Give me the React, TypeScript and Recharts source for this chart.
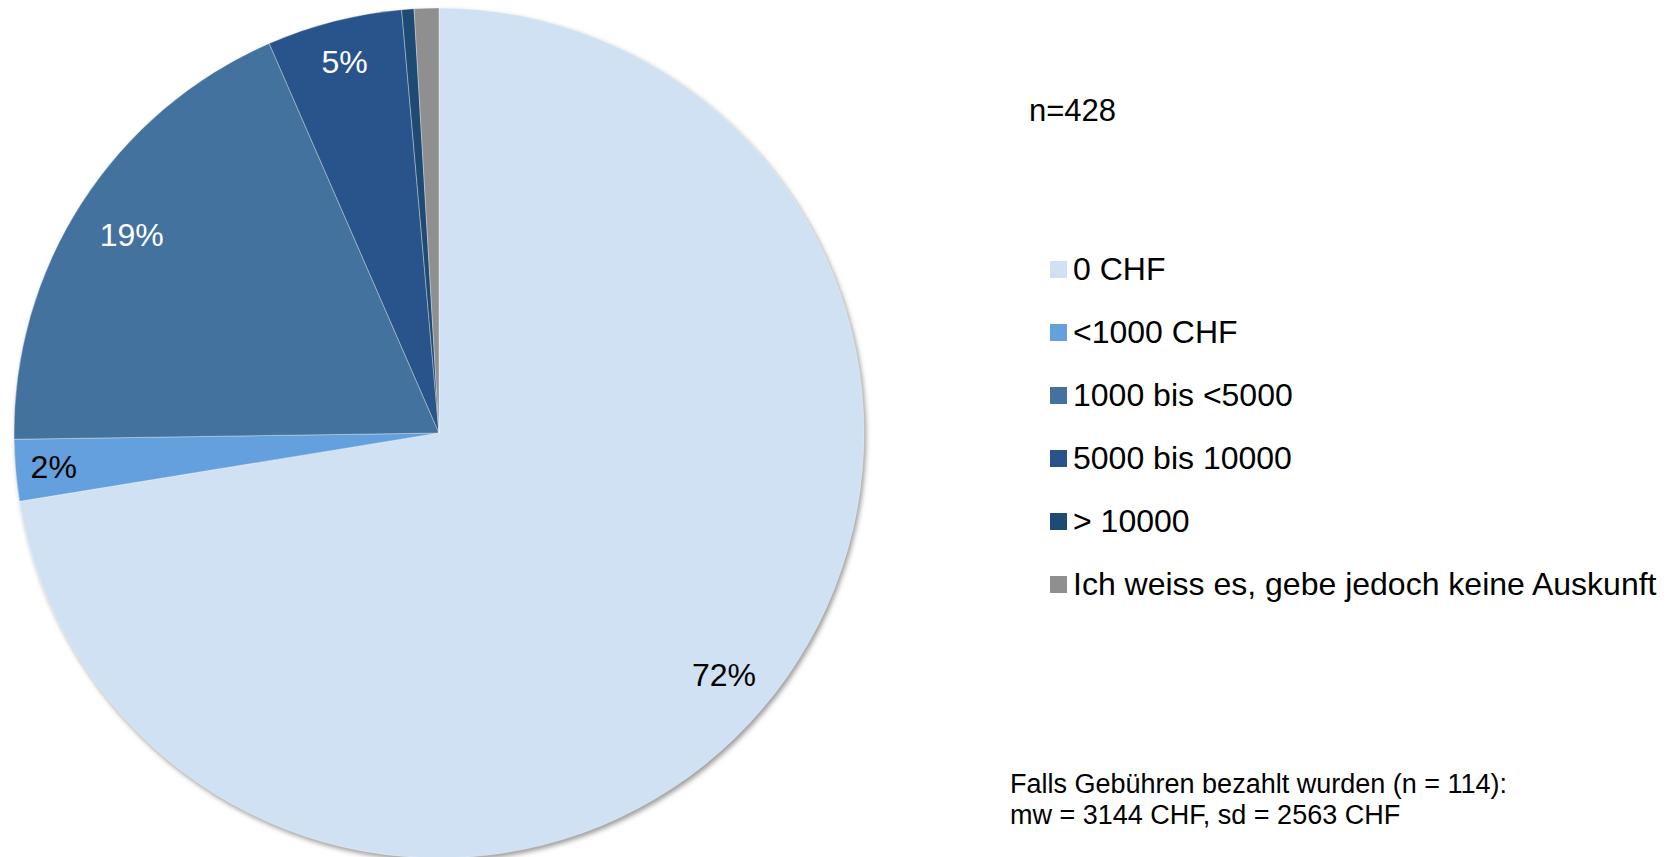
import { PieChart, Pie, Cell, Legend } from "recharts";

// Gebühren (CHF) — Anzahl Antworten, n = 428
const categories = [
  "0 CHF",
  "<1000 CHF",
  "1000 bis <5000",
  "5000 bis 10000",
  "> 10000",
  "Ich weiss es, gebe jedoch keine Auskunft",
];
const counts = [310, 10, 80, 22, 2, 4];

const sliceColors = ["#D0E1F3", "#63A0DD", "#44729F", "#28548B", "#1F4A74", "#8F8F8F"];
const labelColors = ["#000000", "#000000", "#ffffff", "#ffffff", "#ffffff", "#000000"];
// how far out (fraction of radius) each slice label sits — Excel "best fit" look
const labelRadius = [0.88, 0.91, 0.86, 0.9, 0.9, 0.9];

const totalText = "n=428";
const noteLines = ["Falls Gebühren bezahlt wurden (n = 114):", "mw = 3144 CHF, sd = 2563 CHF"];

const data = categories.map((name, i) => ({ name, value: counts[i] }));

const FONT = "'Liberation Sans', Arial, Helvetica, sans-serif";
const RAD = Math.PI / 180;

// ─── Percent label inside slice ──────────────────────────────────────────────

function PctLabel(props: any) {
  const { cx, cy, midAngle, outerRadius, percent, index } = props;
  if (percent < 0.015) return null;
  const r = outerRadius * labelRadius[index];
  const x = cx + r * Math.cos(-midAngle * RAD);
  const y = cy + r * Math.sin(-midAngle * RAD);
  return (
    <text
      x={x}
      y={y}
      fill={labelColors[index]}
      textAnchor="middle"
      dominantBaseline="central"
      fontSize={32}
      fontFamily={FONT}
    >
      {`${Math.round(percent * 100)}%`}
    </text>
  );
}

// ─── Legend (built from the category list, in data order) ───────────────────

function LegendList() {
  return (
    <div style={{ fontFamily: FONT }}>
      {categories.map((name, i) => (
        <div key={name} style={{ display: "flex", alignItems: "center", height: 63 }}>
          <span
            style={{
              display: "inline-block",
              width: 17,
              height: 17,
              background: sliceColors[i],
              marginRight: 6,
            }}
          />
          <span style={{ fontSize: 32, color: "#000", whiteSpace: "nowrap" }}>{name}</span>
        </div>
      ))}
    </div>
  );
}

export default function App() {
  return (
    <div
      style={{
        position: "absolute",
        left: 0,
        top: 0,
        width: 1673,
        height: 857,
        background: "#fff",
        overflow: "hidden",
      }}
    >
      <PieChart width={1673} height={857} margin={{ top: 0, right: 0, bottom: 0, left: 0 }}>
        <defs>
          <filter id="pieShadow" x="-10%" y="-10%" width="120%" height="120%">
            <feGaussianBlur stdDeviation="2.5" />
          </filter>
        </defs>

        {/* shadow underneath */}
        <Pie
          data={data}
          dataKey="value"
          nameKey="name"
          cx={441}
          cy={436}
          outerRadius={425}
          startAngle={90}
          endAngle={-270}
          stroke="none"
          legendType="none"
          isAnimationActive={false}
        >
          {data.map((_, i) => (
            <Cell key={i} fill="#9a9a9a" filter="url(#pieShadow)" />
          ))}
        </Pie>

        <Pie
          data={data}
          dataKey="value"
          nameKey="name"
          cx={439}
          cy={433}
          outerRadius={425}
          startAngle={90}
          endAngle={-270}
          stroke="rgba(255,255,255,0.35)"
          strokeWidth={1}
          label={PctLabel}
          labelLine={false}
          isAnimationActive={false}
        >
          {data.map((_, i) => (
            <Cell key={i} fill={sliceColors[i]} />
          ))}
        </Pie>

        <Legend
          layout="vertical"
          content={<LegendList />}
          wrapperStyle={{ left: 1050, top: 238, width: 620, bottom: "auto", right: "auto" }}
        />
      </PieChart>

      <div
        style={{
          position: "absolute",
          left: 1029,
          top: 93,
          fontFamily: FONT,
          fontSize: 31,
          lineHeight: "36px",
          color: "#000",
        }}
      >
        {totalText}
      </div>

      <div
        style={{
          position: "absolute",
          left: 1010,
          top: 769,
          fontFamily: FONT,
          fontSize: 27,
          lineHeight: "31px",
          color: "#000",
          whiteSpace: "nowrap",
        }}
      >
        {noteLines.map((l, i) => (
          <div key={i}>{l}</div>
        ))}
      </div>
    </div>
  );
}
